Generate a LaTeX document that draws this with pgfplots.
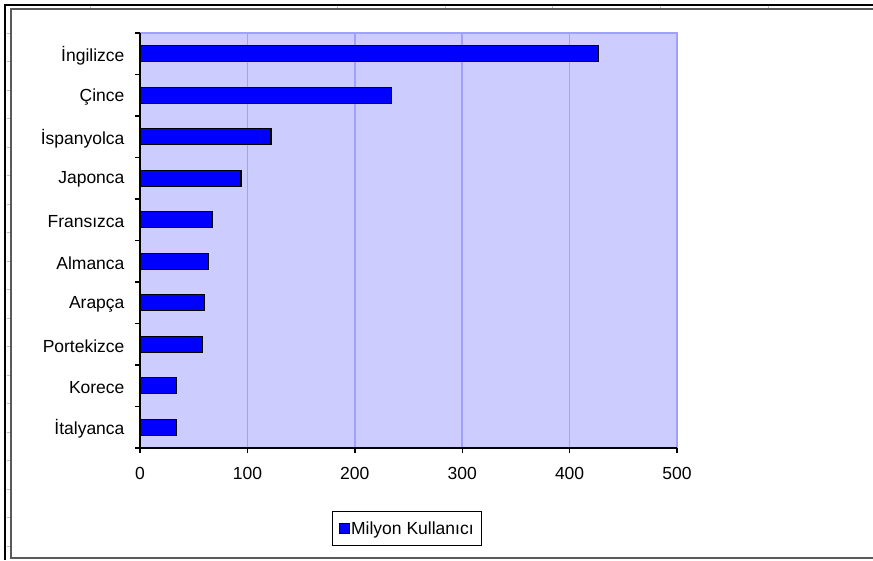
\documentclass[border=0pt]{standalone}
\usepackage{pgfplots}
\pgfplotsset{compat=1.18}
\usepackage{fontspec}
\setmainfont{Liberation Sans}

\definecolor{plotbg}{RGB}{204,204,255}
\definecolor{gridc}{RGB}{160,160,255}
\definecolor{barblue}{RGB}{0,0,255}
\definecolor{framegrey}{RGB}{90,90,90}
\definecolor{cellgrey}{RGB}{190,190,190}

% Internet users by language, in millions (bottom to top)
\pgfplotstableread{
idx value
0   34
1   34
2   58
3   60
4   64
5   67
6   94
7   122
8   234
9   427
}\users

\begin{document}
\begin{tikzpicture}[x=1pt,y=1pt]
\useasboundingbox (0,0) rectangle (873,560);
\fill[white] (0,0) rectangle (873,560);

% worksheet frame
\draw[black, line width=2.6pt] (5,0) -- (5,555) -- (873,555);
\draw[framegrey, line width=1.6pt] (873,551) -- (11,551) -- (11,2) -- (873,2);
\foreach \y in {33,61.5,...,560} {
  \draw[cellgrey, line width=0.8pt] (6.5,560-\y) -- (10,560-\y);
}
\foreach \x in {90,337,445,552,660,768} {
  \draw[cellgrey, line width=0.8pt] (\x,553.5) -- (\x,551.8);
}

\begin{axis}[
  at={(140pt,112pt)}, anchor=south west,
  scale only axis, width=537pt, height=415pt,
  xbar, bar width=16pt,
  xmin=0, xmax=500, ymin=-0.5, ymax=9.5,
  axis x line*=bottom, axis y line*=left,
  axis line style={black, line width=1.4pt},
  axis background/.style={fill=plotbg, draw=gridc, line width=1.5pt},
  xtick={0,100,...,500},
  xmajorgrids, major grid style={gridc, line width=1.5pt},
  ytick={-0.5,0.5,...,9.5}, yticklabels={},
  extra y ticks={0,...,9},
  extra y tick labels={İtalyanca,Korece,Portekizce,Arapça,Almanca,Fransızca,Japonca,İspanyolca,Çince,İngilizce},
  extra y tick style={major tick length=0pt, yticklabel style={xshift=-12pt, yshift=-1.5pt}},
  tick align=outside, major tick length=5pt,
  tick style={black, line width=1.4pt},
  ticklabel style={font=\fontsize{17.5}{20}\selectfont},
  /pgf/number format/assume math mode=true,
  xticklabel style={yshift=-11pt},
  legend style={at={(0.497,-0.194)}, anchor=center, draw=black, line width=1pt,
    fill=white, font=\fontsize{17.5}{20}\selectfont, inner xsep=6pt, inner ysep=8pt,
    nodes={inner sep=1.5pt}},
  legend image code/.code={\draw[fill=barblue, draw=black, line width=1pt] (0pt,-5pt) rectangle (10pt,5pt);},
]
\addplot[fill=barblue, draw=black, line width=1.2pt] table[x=value, y=idx] {\users};
\addlegendentry{Milyon Kullanıcı}
\end{axis}
\end{tikzpicture}
\end{document}
